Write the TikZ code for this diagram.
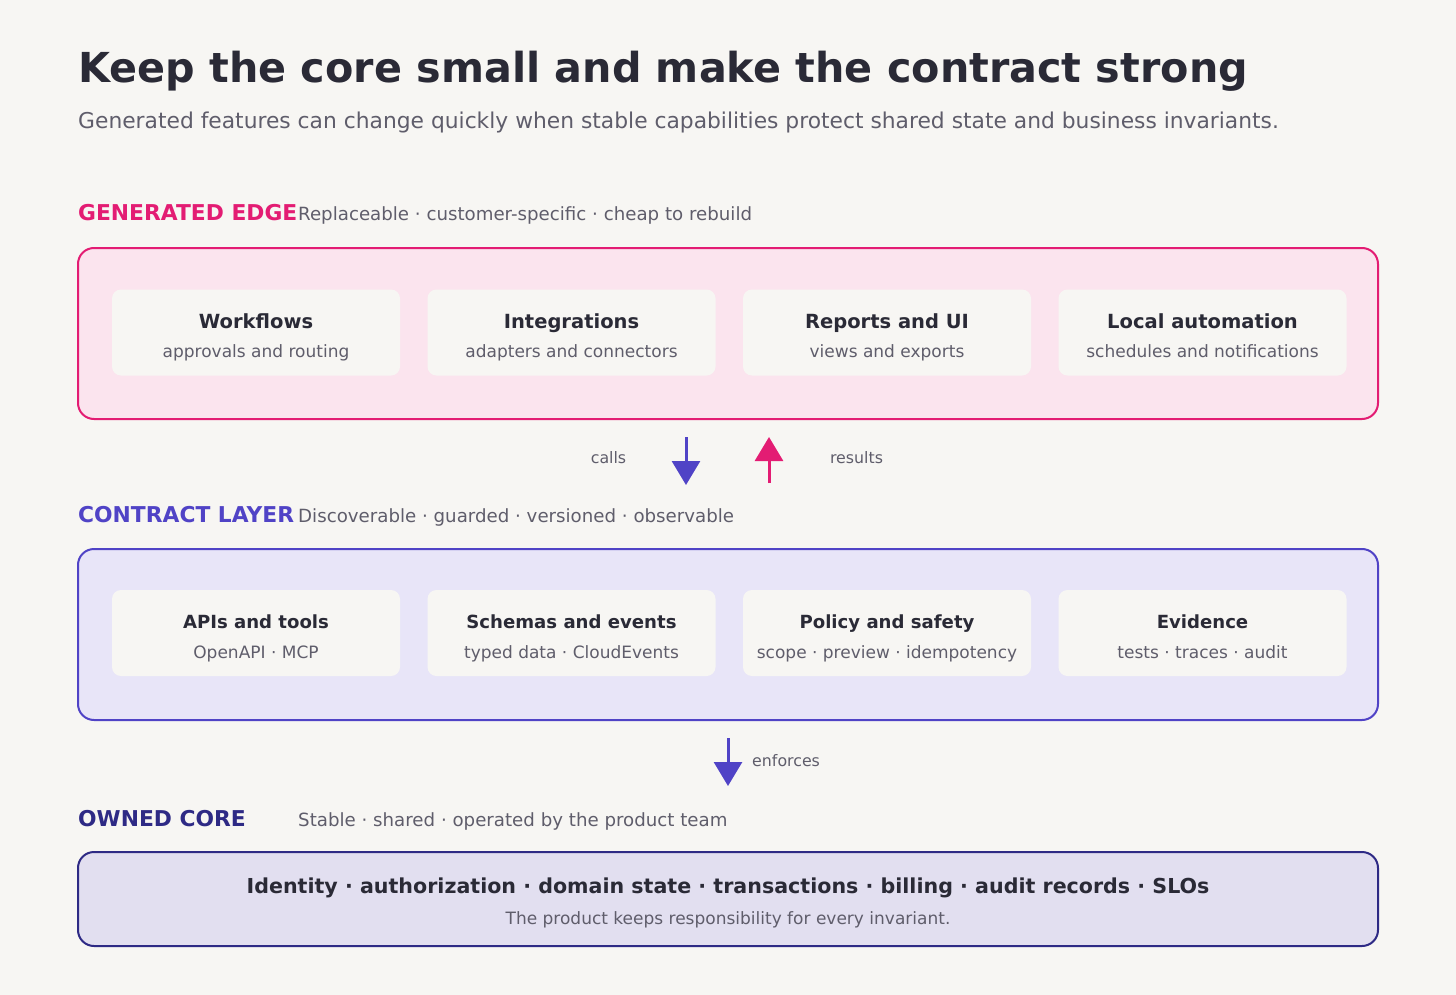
\documentclass[tikz,border=0pt]{standalone}
\usepackage{fontspec}
\setmainfont{DejaVu Sans}
\usetikzlibrary{arrows.meta}
\definecolor{bg}{HTML}{F7F6F3}
\definecolor{ink}{HTML}{2A2A36}
\definecolor{muted}{HTML}{5F5D6B}
\definecolor{pink}{HTML}{E31C73}
\definecolor{pinkfill}{HTML}{FBE4EE}
\definecolor{violet}{HTML}{5043C6}
\definecolor{violetfill}{HTML}{E8E5F8}
\definecolor{navy}{HTML}{2E2A85}
\definecolor{navyfill}{HTML}{E2DFF0}
\tikzset{
  layer/.style={rounded corners=16pt, line width=2pt},
  card/.style={fill=bg, rounded corners=9pt, minimum width=288pt, minimum height=86pt, inner sep=0pt},
  cardtitle/.style={font=\bfseries\fontsize{19.5}{19.5}\selectfont, text=ink, anchor=base, inner sep=0pt},
  cardtitlesmall/.style={font=\bfseries\fontsize{18.1}{18.1}\selectfont, text=ink, anchor=base, inner sep=0pt},
  cardsub/.style={font=\fontsize{17}{17}\selectfont, text=muted, anchor=base, inner sep=0pt},
  heading/.style={anchor=base west, inner sep=0pt, font=\bfseries\fontsize{21.8}{21.8}\selectfont},
  desc/.style={anchor=base west, inner sep=0pt, font=\fontsize{18.2}{18.2}\selectfont, text=muted},
  arr/.style={line width=3pt, -{Triangle[width=28pt,length=24pt]}},
  lab/.style={font=\fontsize{15.8}{15.8}\selectfont, text=muted, inner sep=0pt},
}
\begin{document}
\begin{tikzpicture}[x=1pt,y=-1pt]
\fill[bg] (0,0) rectangle (1456,995);
\useasboundingbox (0,0) rectangle (1456,995);
% title
\node[anchor=base west, inner sep=0pt, text=ink, font=\bfseries\fontsize{41.3}{41.3}\selectfont] (title) at (78,83) {Keep the core small and make the contract strong};
\node[anchor=base west, inner sep=0pt, text=muted, font=\fontsize{21.8}{21.8}\selectfont] (subtitle) at (78,129) {Generated features can change quickly when stable capabilities protect shared state and business invariants.};

% generated edge
\node[heading, text=pink] (h1) at (78,221) {GENERATED EDGE};
\node[desc] (d1) at (298,221) {Replaceable · customer-specific · cheap to rebuild};
\draw[layer, draw=pink, fill=pinkfill] (78,248) rectangle (1378,419);
\foreach \n/\x/\t/\s in {w/256/Workflows/approvals and routing, i/571.5/Integrations/adapters and connectors, r/887/Reports and UI/views and exports, a/1202.5/Local automation/schedules and notifications}{
  \node[card] (\n) at (\x,332.5) {};
  \node[cardtitle] (\n t) at (\x,328) {\t};
  \node[cardsub] (\n s) at (\x,357) {\s};
}

% arrows between edge and contract
\coordinate (c1) at (686,437);
\coordinate (c2) at (686,485);
\coordinate (r1) at (769,483);
\coordinate (r2) at (769,437);
\draw[arr, violet] (c1) -- (c2);
\draw[arr, pink] (r1) -- (r2);
\node[lab] (calls) at (608.5,458) {calls};
\node[lab] (results) at (856.5,458) {results};

% contract layer
\node[heading, text=violet] (h2) at (78,522) {CONTRACT LAYER};
\node[desc] (d2) at (298,522) {Discoverable · guarded · versioned · observable};
\draw[layer, draw=violet, fill=violetfill] (78,549) rectangle (1378,720);
\foreach \n/\x/\t/\s in {p/256/APIs and tools/OpenAPI · MCP, e/571.5/Schemas and events/typed data · CloudEvents, y/887/Policy and safety/scope · preview · idempotency, v/1202.5/Evidence/tests · traces · audit}{
  \node[card] (\n) at (\x,633) {};
  \node[cardtitlesmall] (\n t) at (\x,628.5) {\t};
  \node[cardsub] (\n s) at (\x,658) {\s};
}

% enforces
\coordinate (e1) at (728,738);
\coordinate (e2) at (728,786);
\draw[arr, violet] (e1) -- (e2);
\node[lab, anchor=west] (enf) at (752,761) {enforces};

% owned core
\node[heading, text=navy] (h3) at (78,826) {OWNED CORE};
\node[desc] (d3) at (298,826) {Stable · shared · operated by the product team};
\draw[layer, draw=navy, fill=navyfill] (78,852) rectangle (1378,946);
\node[anchor=base, inner sep=0pt, text=ink, font=\bfseries\fontsize{20.6}{20.6}\selectfont] (core) at (728,893) {Identity · authorization · domain state · transactions · billing · audit records · SLOs};
\node[anchor=base, inner sep=0pt, text=muted, font=\fontsize{17}{17}\selectfont] (coresub) at (728,924) {The product keeps responsibility for every invariant.};
\end{tikzpicture}
\end{document}
